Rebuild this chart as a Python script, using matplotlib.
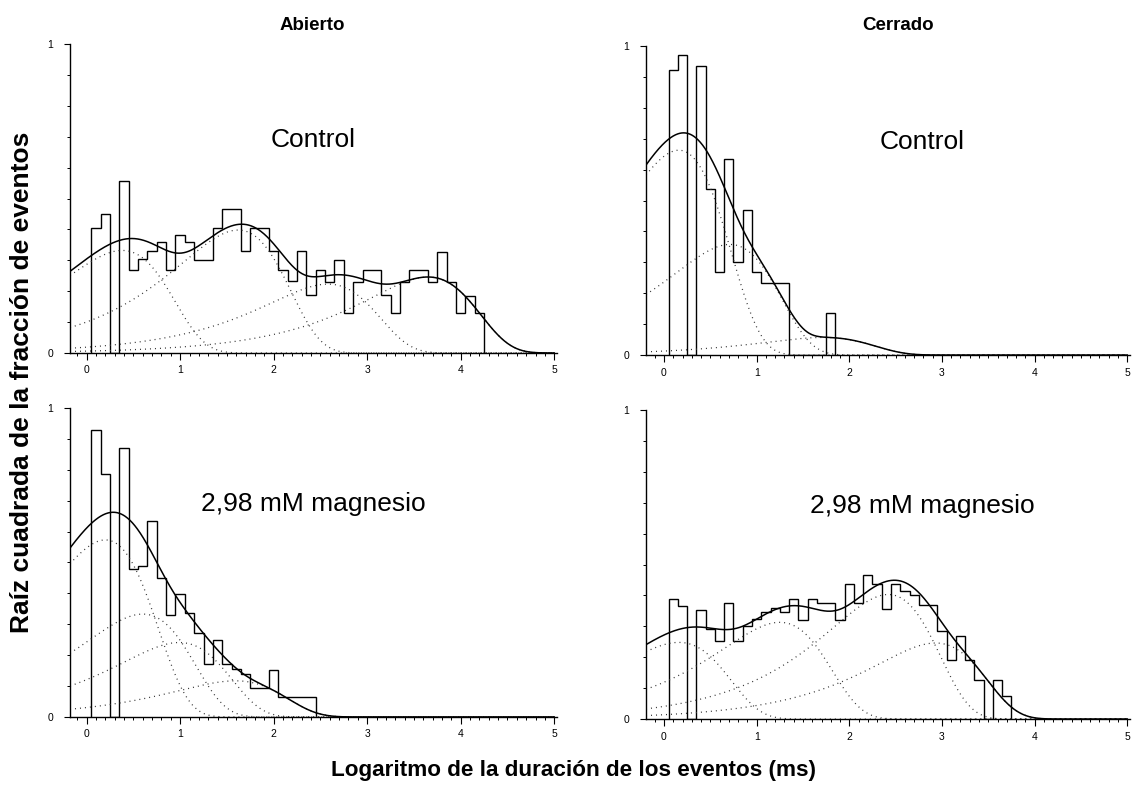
import numpy as np
import matplotlib
matplotlib.use("Agg")
import matplotlib.pyplot as plt
from matplotlib.ticker import MultipleLocator

plt.rcParams['font.family'] = ['Liberation Sans', 'DejaVu Sans']

# bordes de los bins: 0.05 + 0.1*k (log10 ms)
bin_start = 0.05
bin_width = 0.1

# alturas del histograma (raiz de la fraccion), desde el bin 0.05
abierto_control = [0.405, 0.449, 0, 0.556, 0.270, 0.303, 0.331, 0.358, 0.270, 0.381,
                   0.358, 0.300, 0.300, 0.404, 0.466, 0.466, 0.331, 0.403, 0.403, 0.331,
                   0.268, 0.234, 0.329, 0.187, 0.268, 0.230, 0.300, 0.131, 0.230, 0.268,
                   0.268, 0.187, 0.131, 0.230, 0.268, 0.268, 0.230, 0.328, 0.230, 0.131,
                   0.185, 0.130]
cerrado_control = [0.923, 0.972, 0, 0.935, 0.539, 0.269, 0.633, 0.302, 0.468, 0.269,
                   0.234, 0.234, 0.234, 0, 0, 0, 0, 0.136]
abierto_mg = [0.930, 0.787, 0, 0.870, 0.479, 0.489, 0.635, 0.451, 0.330, 0.397,
              0.338, 0.271, 0.171, 0.249, 0.171, 0.154, 0.138, 0.095, 0.095, 0.152,
              0.063, 0.063, 0.063, 0.063]
cerrado_mg = [0.387, 0.367, 0, 0.353, 0.290, 0.254, 0.375, 0.254, 0.300, 0.324,
              0.346, 0.360, 0.347, 0.389, 0.319, 0.389, 0.376, 0.376, 0.319, 0.437,
              0.376, 0.465, 0.436, 0.355, 0.437, 0.415, 0.400, 0.370, 0.370, 0.284,
              0.190, 0.268, 0.190, 0.125, 0, 0.125, 0.073]

# componentes del ajuste: posicion del maximo (log10 tau) y altura del maximo
abierto_control_tau = [0.38, 1.62, 2.58, 3.65]
abierto_control_h = [0.332, 0.398, 0.223, 0.246]
cerrado_control_tau = [0.16, 0.71, 1.72]
cerrado_control_h = [0.663, 0.358, 0.057]
abierto_mg_tau = [0.20, 0.60, 0.99, 1.59]
abierto_mg_h = [0.573, 0.333, 0.241, 0.117]
cerrado_mg_tau = [0.16, 1.25, 2.42, 2.93]
cerrado_mg_h = [0.248, 0.313, 0.403, 0.246]

etiquetas = ['Control', 'Control', '2,98 mM magnesio', '2,98 mM magnesio']


def componente(x, x0, h):
    # componente exponencial en escala log (Sigworth-Sine), en raiz cuadrada
    u = np.log(10) * (x - x0)
    return h * np.exp((1 + u - np.exp(u)) / 2)


fig = plt.figure(figsize=(11.44, 7.89), dpi=100)

posiciones = [[0.0612, 0.5526, 0.4257, 0.3916],
              [0.5647, 0.5500, 0.4231, 0.3916],
              [0.0612, 0.0913, 0.4257, 0.3916],
              [0.5647, 0.0887, 0.4231, 0.3916]]
datos = [(abierto_control, abierto_control_tau, abierto_control_h),
         (cerrado_control, cerrado_control_tau, cerrado_control_h),
         (abierto_mg, abierto_mg_tau, abierto_mg_h),
         (cerrado_mg, cerrado_mg_tau, cerrado_mg_h)]
xlims = [(-0.178, 5.03), (-0.194, 5.03), (-0.178, 5.03), (-0.194, 5.03)]

for i in range(4):
    ax = fig.add_axes(posiciones[i])
    alturas, taus, hs = datos[i]
    bordes = bin_start + bin_width * np.arange(len(alturas) + 1)
    ax.stairs(alturas, bordes, color='black', lw=1.0, baseline=0)

    x = np.linspace(xlims[i][0], 5.0, 800)
    total = np.zeros_like(x)
    for x0, h in zip(taus, hs):
        c = componente(x, x0, h)
        total += c ** 2
        ax.plot(x, c, color='#333333', lw=0.9, linestyle=(0, (0.8, 3.2)))
    ax.plot(x, np.sqrt(total), color='black', lw=1.1)

    ax.set_xlim(*xlims[i])
    ax.set_ylim(0, 1)
    for s in ['top', 'right']:
        ax.spines[s].set_visible(False)
    ax.spines['left'].set_linewidth(1.0)
    ax.spines['bottom'].set_linewidth(1.0)
    ax.xaxis.set_major_locator(MultipleLocator(1))
    ax.xaxis.set_minor_locator(MultipleLocator(0.1))
    ax.set_yticks([0, 1])
    ax.yaxis.set_minor_locator(MultipleLocator(0.1))
    ax.tick_params(which='major', direction='out', length=5, width=0.8, labelsize=7.5, pad=4)
    ax.tick_params(which='minor', direction='out', length=2.5, width=0.7)
    ax.tick_params(axis='y', which='major', length=4, pad=8)
    ax.text(0.5 if i % 2 == 0 else 0.57, 0.69, etiquetas[i], transform=ax.transAxes,
            ha='center', va='center', fontsize=19)

fig.text(0.273, 0.968, 'Abierto', ha='center', va='center', fontsize=13.5, fontweight='bold')
fig.text(0.785, 0.968, 'Cerrado', ha='center', va='center', fontsize=13.5, fontweight='bold')
fig.text(0.019, 0.516, 'Raíz cuadrada de la fracción de eventos', rotation=90,
         ha='center', va='center', fontsize=19, fontweight='bold')
fig.text(0.501, 0.024, 'Logaritmo de la duración de los eventos (ms)',
         ha='center', va='center', fontsize=16.2, fontweight='bold')

fig.savefig('out.png', dpi=100)
